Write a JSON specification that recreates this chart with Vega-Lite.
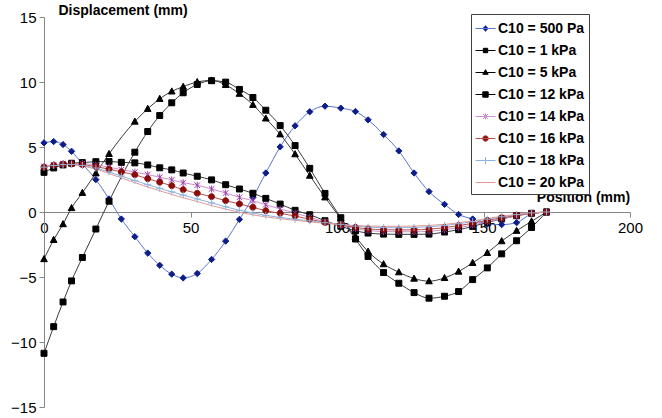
{
  "$schema": "https://vega.github.io/schema/vega-lite/v6.json",
  "width": 586,
  "height": 390,
  "autosize": "none",
  "padding": {"left": 44, "top": 17, "right": 32, "bottom": 11},
  "config": {
    "font": "Liberation Sans",
    "view": {"stroke": null},
    "axis": {"labelFont": "Liberation Sans", "titleFont": "Liberation Sans", "labelColor": "#000", "titleColor": "#000"},
    "legend": {"labelFont": "Liberation Sans"}
  },
  "datasets": {
    "d": [
      {"s":"C10 = 500 Pa","x":0,"y":5.32},{"s":"C10 = 500 Pa","x":3.3,"y":5.42},{"s":"C10 = 500 Pa","x":6.5,"y":5.19},{"s":"C10 = 500 Pa","x":9.4,"y":4.67},{"s":"C10 = 500 Pa","x":13.1,"y":3.7},{"s":"C10 = 500 Pa","x":17.7,"y":2.49},{"s":"C10 = 500 Pa","x":22.2,"y":1.0},{"s":"C10 = 500 Pa","x":26.4,"y":-0.54},{"s":"C10 = 500 Pa","x":31.0,"y":-1.9},{"s":"C10 = 500 Pa","x":35.4,"y":-3.16},{"s":"C10 = 500 Pa","x":39.5,"y":-4.1},{"s":"C10 = 500 Pa","x":43.6,"y":-4.78},{"s":"C10 = 500 Pa","x":47.5,"y":-5.07},{"s":"C10 = 500 Pa","x":52.3,"y":-4.73},{"s":"C10 = 500 Pa","x":57.2,"y":-3.65},{"s":"C10 = 500 Pa","x":62.0,"y":-2.24},{"s":"C10 = 500 Pa","x":66.7,"y":-0.57},{"s":"C10 = 500 Pa","x":71.3,"y":1.13},{"s":"C10 = 500 Pa","x":75.7,"y":3.0},{"s":"C10 = 500 Pa","x":80.6,"y":5.01},{"s":"C10 = 500 Pa","x":85.7,"y":6.63},{"s":"C10 = 500 Pa","x":90.7,"y":7.71},{"s":"C10 = 500 Pa","x":95.9,"y":8.14},{"s":"C10 = 500 Pa","x":101.3,"y":7.99},{"s":"C10 = 500 Pa","x":106.3,"y":7.73},{"s":"C10 = 500 Pa","x":110.6,"y":7.09},{"s":"C10 = 500 Pa","x":115.9,"y":5.96},{"s":"C10 = 500 Pa","x":121.1,"y":4.7},{"s":"C10 = 500 Pa","x":126.3,"y":3.0},{"s":"C10 = 500 Pa","x":131.4,"y":1.57},{"s":"C10 = 500 Pa","x":136.7,"y":0.59},{"s":"C10 = 500 Pa","x":141.5,"y":-0.19},{"s":"C10 = 500 Pa","x":146.3,"y":-0.54},{"s":"C10 = 500 Pa","x":151.3,"y":-0.93},{"s":"C10 = 500 Pa","x":156.2,"y":-0.97},{"s":"C10 = 500 Pa","x":161.3,"y":-0.82},{"s":"C10 = 500 Pa","x":166.4,"y":-0.15},{"s":"C10 = 500 Pa","x":171.5,"y":0},
      {"s":"C10 = 1 kPa","x":0,"y":-10.87},{"s":"C10 = 1 kPa","x":3.3,"y":-8.82},{"s":"C10 = 1 kPa","x":6.5,"y":-6.92},{"s":"C10 = 1 kPa","x":9.4,"y":-5.3},{"s":"C10 = 1 kPa","x":13.1,"y":-3.5},{"s":"C10 = 1 kPa","x":17.7,"y":-1.31},{"s":"C10 = 1 kPa","x":22.2,"y":0.83},{"s":"C10 = 1 kPa","x":31.0,"y":4.6},{"s":"C10 = 1 kPa","x":35.4,"y":6.19},{"s":"C10 = 1 kPa","x":39.5,"y":7.42},{"s":"C10 = 1 kPa","x":43.6,"y":8.4},{"s":"C10 = 1 kPa","x":47.5,"y":9.17},{"s":"C10 = 1 kPa","x":52.3,"y":9.81},{"s":"C10 = 1 kPa","x":57.2,"y":10.1},{"s":"C10 = 1 kPa","x":62.0,"y":9.99},{"s":"C10 = 1 kPa","x":66.7,"y":9.43},{"s":"C10 = 1 kPa","x":71.3,"y":8.81},{"s":"C10 = 1 kPa","x":75.7,"y":7.83},{"s":"C10 = 1 kPa","x":80.6,"y":6.65},{"s":"C10 = 1 kPa","x":85.7,"y":5.11},{"s":"C10 = 1 kPa","x":90.7,"y":3.36},{"s":"C10 = 1 kPa","x":95.9,"y":1.43},{"s":"C10 = 1 kPa","x":101.3,"y":-0.44},{"s":"C10 = 1 kPa","x":106.3,"y":-2.08},{"s":"C10 = 1 kPa","x":110.6,"y":-3.42},{"s":"C10 = 1 kPa","x":115.9,"y":-4.66},{"s":"C10 = 1 kPa","x":121.1,"y":-5.48},{"s":"C10 = 1 kPa","x":126.3,"y":-6.2},{"s":"C10 = 1 kPa","x":131.4,"y":-6.63},{"s":"C10 = 1 kPa","x":136.7,"y":-6.48},{"s":"C10 = 1 kPa","x":141.5,"y":-6.12},{"s":"C10 = 1 kPa","x":146.3,"y":-5.2},{"s":"C10 = 1 kPa","x":151.3,"y":-4.3},{"s":"C10 = 1 kPa","x":156.2,"y":-3.22},{"s":"C10 = 1 kPa","x":161.3,"y":-2.21},{"s":"C10 = 1 kPa","x":166.4,"y":-1.19},{"s":"C10 = 1 kPa","x":171.5,"y":0},
      {"s":"C10 = 5 kPa","x":0,"y":-3.62},{"s":"C10 = 5 kPa","x":3.3,"y":-2.14},{"s":"C10 = 5 kPa","x":6.5,"y":-0.93},{"s":"C10 = 5 kPa","x":9.4,"y":0.31},{"s":"C10 = 5 kPa","x":13.1,"y":1.48},{"s":"C10 = 5 kPa","x":17.7,"y":2.98},{"s":"C10 = 5 kPa","x":22.2,"y":4.47},{"s":"C10 = 5 kPa","x":31.0,"y":6.96},{"s":"C10 = 5 kPa","x":35.4,"y":7.94},{"s":"C10 = 5 kPa","x":39.5,"y":8.71},{"s":"C10 = 5 kPa","x":43.6,"y":9.28},{"s":"C10 = 5 kPa","x":47.5,"y":9.64},{"s":"C10 = 5 kPa","x":52.3,"y":10.0},{"s":"C10 = 5 kPa","x":57.2,"y":10.12},{"s":"C10 = 5 kPa","x":62.0,"y":9.78},{"s":"C10 = 5 kPa","x":66.7,"y":9.1},{"s":"C10 = 5 kPa","x":71.3,"y":8.25},{"s":"C10 = 5 kPa","x":75.7,"y":7.2},{"s":"C10 = 5 kPa","x":80.6,"y":5.98},{"s":"C10 = 5 kPa","x":85.7,"y":4.45},{"s":"C10 = 5 kPa","x":90.7,"y":2.8},{"s":"C10 = 5 kPa","x":95.9,"y":1.13},{"s":"C10 = 5 kPa","x":101.3,"y":-0.5},{"s":"C10 = 5 kPa","x":106.3,"y":-1.9},{"s":"C10 = 5 kPa","x":110.6,"y":-3.04},{"s":"C10 = 5 kPa","x":115.9,"y":-4.01},{"s":"C10 = 5 kPa","x":121.1,"y":-4.63},{"s":"C10 = 5 kPa","x":126.3,"y":-5.12},{"s":"C10 = 5 kPa","x":131.4,"y":-5.32},{"s":"C10 = 5 kPa","x":136.7,"y":-5.07},{"s":"C10 = 5 kPa","x":141.5,"y":-4.58},{"s":"C10 = 5 kPa","x":146.3,"y":-3.91},{"s":"C10 = 5 kPa","x":151.3,"y":-3.14},{"s":"C10 = 5 kPa","x":156.2,"y":-2.24},{"s":"C10 = 5 kPa","x":161.3,"y":-1.44},{"s":"C10 = 5 kPa","x":166.4,"y":-0.72},{"s":"C10 = 5 kPa","x":171.5,"y":0},
      {"s":"C10 = 12 kPa","x":0,"y":3.05},{"s":"C10 = 12 kPa","x":3.3,"y":3.39},{"s":"C10 = 12 kPa","x":6.5,"y":3.62},{"s":"C10 = 12 kPa","x":9.4,"y":3.75},{"s":"C10 = 12 kPa","x":13.1,"y":3.8},{"s":"C10 = 12 kPa","x":17.7,"y":3.87},{"s":"C10 = 12 kPa","x":22.2,"y":3.88},{"s":"C10 = 12 kPa","x":26.4,"y":3.82},{"s":"C10 = 12 kPa","x":31.0,"y":3.78},{"s":"C10 = 12 kPa","x":35.4,"y":3.62},{"s":"C10 = 12 kPa","x":39.5,"y":3.4},{"s":"C10 = 12 kPa","x":43.6,"y":3.24},{"s":"C10 = 12 kPa","x":47.5,"y":3.0},{"s":"C10 = 12 kPa","x":52.3,"y":2.75},{"s":"C10 = 12 kPa","x":57.2,"y":2.47},{"s":"C10 = 12 kPa","x":62.0,"y":2.1},{"s":"C10 = 12 kPa","x":66.7,"y":1.77},{"s":"C10 = 12 kPa","x":71.3,"y":1.44},{"s":"C10 = 12 kPa","x":75.7,"y":1.05},{"s":"C10 = 12 kPa","x":80.6,"y":0.61},{"s":"C10 = 12 kPa","x":85.7,"y":0.13},{"s":"C10 = 12 kPa","x":90.7,"y":-0.21},{"s":"C10 = 12 kPa","x":95.9,"y":-0.67},{"s":"C10 = 12 kPa","x":101.3,"y":-1.1},{"s":"C10 = 12 kPa","x":106.3,"y":-1.45},{"s":"C10 = 12 kPa","x":110.6,"y":-1.62},{"s":"C10 = 12 kPa","x":115.9,"y":-1.7},{"s":"C10 = 12 kPa","x":121.1,"y":-1.72},{"s":"C10 = 12 kPa","x":126.3,"y":-1.72},{"s":"C10 = 12 kPa","x":131.4,"y":-1.7},{"s":"C10 = 12 kPa","x":136.7,"y":-1.54},{"s":"C10 = 12 kPa","x":141.5,"y":-1.36},{"s":"C10 = 12 kPa","x":146.3,"y":-1.11},{"s":"C10 = 12 kPa","x":151.3,"y":-0.8},{"s":"C10 = 12 kPa","x":156.2,"y":-0.54},{"s":"C10 = 12 kPa","x":161.3,"y":-0.29},{"s":"C10 = 12 kPa","x":166.4,"y":-0.1},{"s":"C10 = 12 kPa","x":171.5,"y":0},
      {"s":"C10 = 14 kPa","x":0,"y":3.5},{"s":"C10 = 14 kPa","x":3.3,"y":3.63},{"s":"C10 = 14 kPa","x":6.5,"y":3.7},{"s":"C10 = 14 kPa","x":9.4,"y":3.74},{"s":"C10 = 14 kPa","x":13.1,"y":3.72},{"s":"C10 = 14 kPa","x":17.7,"y":3.62},{"s":"C10 = 14 kPa","x":22.2,"y":3.45},{"s":"C10 = 14 kPa","x":26.4,"y":3.26},{"s":"C10 = 14 kPa","x":31.0,"y":3.07},{"s":"C10 = 14 kPa","x":35.4,"y":2.88},{"s":"C10 = 14 kPa","x":39.5,"y":2.67},{"s":"C10 = 14 kPa","x":43.6,"y":2.47},{"s":"C10 = 14 kPa","x":47.5,"y":2.26},{"s":"C10 = 14 kPa","x":52.3,"y":2.06},{"s":"C10 = 14 kPa","x":57.2,"y":1.77},{"s":"C10 = 14 kPa","x":62.0,"y":1.46},{"s":"C10 = 14 kPa","x":66.7,"y":1.13},{"s":"C10 = 14 kPa","x":71.3,"y":0.87},{"s":"C10 = 14 kPa","x":75.7,"y":0.56},{"s":"C10 = 14 kPa","x":80.6,"y":0.23},{"s":"C10 = 14 kPa","x":85.7,"y":-0.08},{"s":"C10 = 14 kPa","x":90.7,"y":-0.41},{"s":"C10 = 14 kPa","x":95.9,"y":-0.75},{"s":"C10 = 14 kPa","x":101.3,"y":-1.02},{"s":"C10 = 14 kPa","x":106.3,"y":-1.28},{"s":"C10 = 14 kPa","x":110.6,"y":-1.42},{"s":"C10 = 14 kPa","x":115.9,"y":-1.5},{"s":"C10 = 14 kPa","x":121.1,"y":-1.52},{"s":"C10 = 14 kPa","x":126.3,"y":-1.52},{"s":"C10 = 14 kPa","x":131.4,"y":-1.48},{"s":"C10 = 14 kPa","x":136.7,"y":-1.36},{"s":"C10 = 14 kPa","x":141.5,"y":-1.2},{"s":"C10 = 14 kPa","x":146.3,"y":-1.0},{"s":"C10 = 14 kPa","x":151.3,"y":-0.76},{"s":"C10 = 14 kPa","x":156.2,"y":-0.52},{"s":"C10 = 14 kPa","x":161.3,"y":-0.3},{"s":"C10 = 14 kPa","x":166.4,"y":-0.12},{"s":"C10 = 14 kPa","x":171.5,"y":0},
      {"s":"C10 = 16 kPa","x":0,"y":3.45},{"s":"C10 = 16 kPa","x":3.3,"y":3.6},{"s":"C10 = 16 kPa","x":6.5,"y":3.68},{"s":"C10 = 16 kPa","x":9.4,"y":3.7},{"s":"C10 = 16 kPa","x":13.1,"y":3.64},{"s":"C10 = 16 kPa","x":17.7,"y":3.49},{"s":"C10 = 16 kPa","x":22.2,"y":3.3},{"s":"C10 = 16 kPa","x":26.4,"y":3.08},{"s":"C10 = 16 kPa","x":31.0,"y":2.86},{"s":"C10 = 16 kPa","x":35.4,"y":2.56},{"s":"C10 = 16 kPa","x":39.5,"y":2.29},{"s":"C10 = 16 kPa","x":43.6,"y":2.02},{"s":"C10 = 16 kPa","x":47.5,"y":1.72},{"s":"C10 = 16 kPa","x":52.3,"y":1.44},{"s":"C10 = 16 kPa","x":57.2,"y":1.18},{"s":"C10 = 16 kPa","x":62.0,"y":0.87},{"s":"C10 = 16 kPa","x":66.7,"y":0.62},{"s":"C10 = 16 kPa","x":71.3,"y":0.36},{"s":"C10 = 16 kPa","x":75.7,"y":0.1},{"s":"C10 = 16 kPa","x":80.6,"y":-0.1},{"s":"C10 = 16 kPa","x":85.7,"y":-0.31},{"s":"C10 = 16 kPa","x":90.7,"y":-0.56},{"s":"C10 = 16 kPa","x":95.9,"y":-0.8},{"s":"C10 = 16 kPa","x":101.3,"y":-0.98},{"s":"C10 = 16 kPa","x":106.3,"y":-1.18},{"s":"C10 = 16 kPa","x":110.6,"y":-1.3},{"s":"C10 = 16 kPa","x":115.9,"y":-1.36},{"s":"C10 = 16 kPa","x":121.1,"y":-1.38},{"s":"C10 = 16 kPa","x":126.3,"y":-1.37},{"s":"C10 = 16 kPa","x":131.4,"y":-1.32},{"s":"C10 = 16 kPa","x":136.7,"y":-1.2},{"s":"C10 = 16 kPa","x":141.5,"y":-1.05},{"s":"C10 = 16 kPa","x":146.3,"y":-0.87},{"s":"C10 = 16 kPa","x":151.3,"y":-0.65},{"s":"C10 = 16 kPa","x":156.2,"y":-0.44},{"s":"C10 = 16 kPa","x":161.3,"y":-0.25},{"s":"C10 = 16 kPa","x":166.4,"y":-0.1},{"s":"C10 = 16 kPa","x":171.5,"y":0},
      {"s":"C10 = 18 kPa","x":0,"y":3.45},{"s":"C10 = 18 kPa","x":3.3,"y":3.58},{"s":"C10 = 18 kPa","x":6.5,"y":3.65},{"s":"C10 = 18 kPa","x":9.4,"y":3.66},{"s":"C10 = 18 kPa","x":13.1,"y":3.58},{"s":"C10 = 18 kPa","x":17.7,"y":3.38},{"s":"C10 = 18 kPa","x":22.2,"y":3.08},{"s":"C10 = 18 kPa","x":26.4,"y":2.76},{"s":"C10 = 18 kPa","x":31.0,"y":2.42},{"s":"C10 = 18 kPa","x":35.4,"y":2.1},{"s":"C10 = 18 kPa","x":39.5,"y":1.82},{"s":"C10 = 18 kPa","x":43.6,"y":1.55},{"s":"C10 = 18 kPa","x":47.5,"y":1.3},{"s":"C10 = 18 kPa","x":52.3,"y":1.0},{"s":"C10 = 18 kPa","x":57.2,"y":0.7},{"s":"C10 = 18 kPa","x":62.0,"y":0.4},{"s":"C10 = 18 kPa","x":66.7,"y":0.13},{"s":"C10 = 18 kPa","x":71.3,"y":-0.08},{"s":"C10 = 18 kPa","x":75.7,"y":-0.26},{"s":"C10 = 18 kPa","x":80.6,"y":-0.42},{"s":"C10 = 18 kPa","x":85.7,"y":-0.56},{"s":"C10 = 18 kPa","x":90.7,"y":-0.68},{"s":"C10 = 18 kPa","x":95.9,"y":-0.82},{"s":"C10 = 18 kPa","x":101.3,"y":-0.95},{"s":"C10 = 18 kPa","x":106.3,"y":-1.08},{"s":"C10 = 18 kPa","x":110.6,"y":-1.16},{"s":"C10 = 18 kPa","x":115.9,"y":-1.2},{"s":"C10 = 18 kPa","x":121.1,"y":-1.21},{"s":"C10 = 18 kPa","x":126.3,"y":-1.19},{"s":"C10 = 18 kPa","x":131.4,"y":-1.14},{"s":"C10 = 18 kPa","x":136.7,"y":-1.04},{"s":"C10 = 18 kPa","x":141.5,"y":-0.9},{"s":"C10 = 18 kPa","x":146.3,"y":-0.74},{"s":"C10 = 18 kPa","x":151.3,"y":-0.55},{"s":"C10 = 18 kPa","x":156.2,"y":-0.37},{"s":"C10 = 18 kPa","x":161.3,"y":-0.2},{"s":"C10 = 18 kPa","x":166.4,"y":-0.07},{"s":"C10 = 18 kPa","x":171.5,"y":0},
      {"s":"C10 = 20 kPa","x":0,"y":3.55},{"s":"C10 = 20 kPa","x":3.3,"y":3.62},{"s":"C10 = 20 kPa","x":6.5,"y":3.65},{"s":"C10 = 20 kPa","x":9.4,"y":3.63},{"s":"C10 = 20 kPa","x":13.1,"y":3.53},{"s":"C10 = 20 kPa","x":17.7,"y":3.3},{"s":"C10 = 20 kPa","x":22.2,"y":2.96},{"s":"C10 = 20 kPa","x":26.4,"y":2.62},{"s":"C10 = 20 kPa","x":31.0,"y":2.26},{"s":"C10 = 20 kPa","x":35.4,"y":1.93},{"s":"C10 = 20 kPa","x":39.5,"y":1.63},{"s":"C10 = 20 kPa","x":43.6,"y":1.35},{"s":"C10 = 20 kPa","x":47.5,"y":1.1},{"s":"C10 = 20 kPa","x":52.3,"y":0.8},{"s":"C10 = 20 kPa","x":57.2,"y":0.5},{"s":"C10 = 20 kPa","x":62.0,"y":0.22},{"s":"C10 = 20 kPa","x":66.7,"y":-0.02},{"s":"C10 = 20 kPa","x":71.3,"y":-0.22},{"s":"C10 = 20 kPa","x":75.7,"y":-0.38},{"s":"C10 = 20 kPa","x":80.6,"y":-0.52},{"s":"C10 = 20 kPa","x":85.7,"y":-0.64},{"s":"C10 = 20 kPa","x":90.7,"y":-0.75},{"s":"C10 = 20 kPa","x":95.9,"y":-0.87},{"s":"C10 = 20 kPa","x":101.3,"y":-0.97},{"s":"C10 = 20 kPa","x":106.3,"y":-1.04},{"s":"C10 = 20 kPa","x":110.6,"y":-1.08},{"s":"C10 = 20 kPa","x":115.9,"y":-1.1},{"s":"C10 = 20 kPa","x":121.1,"y":-1.1},{"s":"C10 = 20 kPa","x":126.3,"y":-1.08},{"s":"C10 = 20 kPa","x":131.4,"y":-1.03},{"s":"C10 = 20 kPa","x":136.7,"y":-0.95},{"s":"C10 = 20 kPa","x":141.5,"y":-0.83},{"s":"C10 = 20 kPa","x":146.3,"y":-0.68},{"s":"C10 = 20 kPa","x":151.3,"y":-0.5},{"s":"C10 = 20 kPa","x":156.2,"y":-0.33},{"s":"C10 = 20 kPa","x":161.3,"y":-0.18},{"s":"C10 = 20 kPa","x":166.4,"y":-0.06},{"s":"C10 = 20 kPa","x":171.5,"y":0}
    ]
  },
  "data": {"name": "d"},
  "layer": [
    {
      "mark": {"type": "line", "interpolate": "monotone"},
      "encoding": {
        "x": {"field": "x", "type": "quantitative", "scale": {"domain": [0, 200], "nice": false},
          "axis": {"orient": "bottom", "offset": -195, "values": [0, 50, 100, 150, 200], "grid": false, "domainColor": "#868686", "tickColor": "#868686", "tickSize": 5, "labelFontSize": 15, "labelPadding": 3, "labelFlush": false, "labelOverlap": false,
            "title": "Position (mm)", "titleFontSize": 14, "titleFontWeight": "bold", "titleX": 539, "titleY": -15, "titleAlign": "center", "titleBaseline": "middle"}},
        "y": {"field": "y", "type": "quantitative", "scale": {"domain": [-15, 15], "nice": false},
          "axis": {"orient": "left", "values": [-15, -10, -5, 0, 5, 10, 15], "grid": false, "domainColor": "#868686", "tickColor": "#868686", "tickSize": 5, "labelFontSize": 15, "labelPadding": 3, "labelFlush": false,
            "title": "Displacement (mm)", "titleFontSize": 14, "titleFontWeight": "bold", "titleAngle": 0, "titleX": 14, "titleY": -7, "titleAlign": "left", "titleBaseline": "middle"}},
        "color": {"field": "s", "type": "nominal", "legend": null,
          "scale": {"domain": ["C10 = 500 Pa", "C10 = 1 kPa", "C10 = 5 kPa", "C10 = 12 kPa", "C10 = 14 kPa", "C10 = 16 kPa", "C10 = 18 kPa", "C10 = 20 kPa"],
            "range": ["#5A74CF", "#3a3a3a", "#3a3a3a", "#3a3a3a", "#CC8FD0", "#B5524C", "#8EB3DE", "#E39A97"]}},
        "strokeWidth": {"field": "s", "type": "nominal", "legend": null,
          "scale": {"domain": ["C10 = 500 Pa", "C10 = 1 kPa", "C10 = 5 kPa", "C10 = 12 kPa", "C10 = 14 kPa", "C10 = 16 kPa", "C10 = 18 kPa", "C10 = 20 kPa"],
            "range": [1, 1, 1, 1, 1, 1.2, 2, 2]}}
      }
    },
    {
      "mark": {"type": "point", "filled": true, "opacity": 1, "size": 49, "strokeWidth": 1},
      "encoding": {
        "x": {"field": "x", "type": "quantitative"},
        "y": {"field": "y", "type": "quantitative"},
        "fill": {"field": "s", "type": "nominal", "legend": null,
          "scale": {"domain": ["C10 = 500 Pa", "C10 = 1 kPa", "C10 = 5 kPa", "C10 = 12 kPa", "C10 = 14 kPa", "C10 = 16 kPa", "C10 = 18 kPa", "C10 = 20 kPa"],
            "range": ["#0D1E8A", "#000000", "#000000", "#000000", "#9B3BA6", "#8B0A0A", "#8EB3DE", "#E39A97"]}},
        "stroke": {"field": "s", "type": "nominal", "legend": null,
          "scale": {"domain": ["C10 = 500 Pa", "C10 = 1 kPa", "C10 = 5 kPa", "C10 = 12 kPa", "C10 = 14 kPa", "C10 = 16 kPa", "C10 = 18 kPa", "C10 = 20 kPa"],
            "range": ["#0D1E8A", "#000000", "#000000", "#000000", "#9B3BA6", "#8B0A0A", "#8EB3DE", "#E39A97"]}},
        "shape": {"field": "s", "type": "nominal", "legend": null,
          "scale": {"domain": ["C10 = 500 Pa", "C10 = 1 kPa", "C10 = 5 kPa", "C10 = 12 kPa", "C10 = 14 kPa", "C10 = 16 kPa", "C10 = 18 kPa", "C10 = 20 kPa"],
            "range": ["M0,-0.9L0.9,0L0,0.9L-0.9,0Z", "M-0.85,-0.85H0.85V0.85H-0.85Z", "M0,-1L0.95,0.75H-0.95Z", "M-0.85,-0.85H0.85V0.85H-0.85Z", "M-0.8,-0.8L0.8,0.8M-0.8,0.8L0.8,-0.8M0,-1V1", "M-0.85,0A0.85,0.85,0,1,0,0.85,0A0.85,0.85,0,1,0,-0.85,0Z", "M0,-1V1M-1,0H1", "M0,0"]}}
      }
    },
    {
      "transform": [{"filter": {"field": "x", "lt": -1000}}],
      "mark": {"type": "point", "filled": true, "opacity": 1, "size": 400, "strokeWidth": 1},
      "encoding": {
        "x": {"field": "x", "type": "quantitative"},
        "y": {"field": "y", "type": "quantitative"},
        "fill": {"field": "s", "type": "nominal",
          "legend": {"orient": "none", "legendX": 427, "legendY": -3, "title": null, "padding": 4, "strokeColor": "#404040", "fillColor": "#ffffff", "labelFontSize": 14, "labelFontWeight": "bold", "labelColor": "#000", "symbolSize": 400, "symbolStrokeWidth": 1, "rowPadding": 4, "labelOffset": 2, "symbolOpacity": 1},
          "scale": {"domain": ["C10 = 500 Pa", "C10 = 1 kPa", "C10 = 5 kPa", "C10 = 12 kPa", "C10 = 14 kPa", "C10 = 16 kPa", "C10 = 18 kPa", "C10 = 20 kPa"],
            "range": ["#0D1E8A", "#000000", "#000000", "#000000", "#9B3BA6", "#8B0A0A", "#8EB3DE", "#E39A97"]}},
        "stroke": {"field": "s", "type": "nominal",
          "scale": {"domain": ["C10 = 500 Pa", "C10 = 1 kPa", "C10 = 5 kPa", "C10 = 12 kPa", "C10 = 14 kPa", "C10 = 16 kPa", "C10 = 18 kPa", "C10 = 20 kPa"],
            "range": ["#5A74CF", "#000000", "#000000", "#000000", "#CC8FD0", "#B5524C", "#8EB3DE", "#E39A97"]}},
        "shape": {"field": "s", "type": "nominal",
          "scale": {"domain": ["C10 = 500 Pa", "C10 = 1 kPa", "C10 = 5 kPa", "C10 = 12 kPa", "C10 = 14 kPa", "C10 = 16 kPa", "C10 = 18 kPa", "C10 = 20 kPa"],
            "range": ["M-1,0H1M0,-0.3L0.3,0L0,0.3L-0.3,0Z", "M-1,0H1M-0.22,-0.22H0.22V0.22H-0.22Z", "M-1,0H1M0,-0.28L0.27,0.18H-0.27Z", "M-1,0H1M-0.27,-0.27H0.27V0.27H-0.27Z", "M-1,0H1M-0.25,-0.25L0.25,0.25M-0.25,0.25L0.25,-0.25M0,-0.3V0.3", "M-1,0H1M-0.28,0A0.28,0.28,0,1,0,0.28,0A0.28,0.28,0,1,0,-0.28,0Z", "M-1,0H1M0,-0.35V0.35", "M-1,0H1"]}}
      }
    }
  ],
  "resolve": {"scale": {"color": "independent", "fill": "independent", "stroke": "independent", "shape": "independent", "strokeWidth": "independent"}}
}
